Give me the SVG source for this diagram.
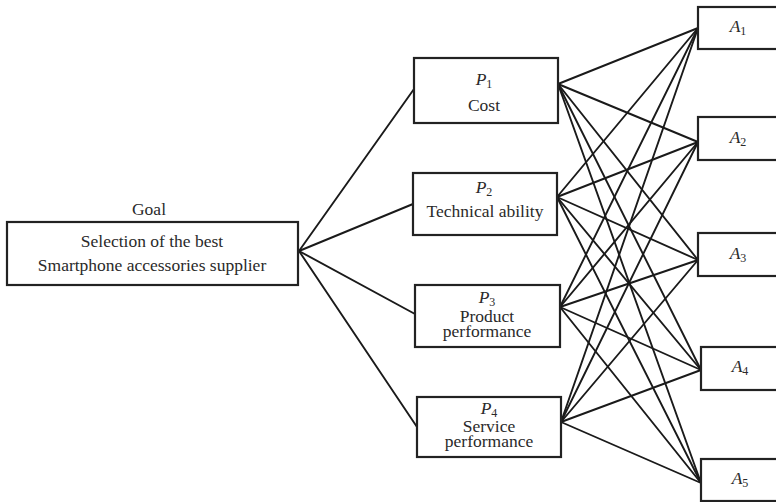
<svg xmlns="http://www.w3.org/2000/svg" width="776" height="502" viewBox="0 0 776 502">
<style>
.box{fill:#fff;stroke:#222;stroke-width:2.2}
.ln{stroke:#1a1a1a;stroke-width:1.9;fill:none;stroke-linecap:round}
text{font-family:"Liberation Serif","Times New Roman",serif;font-size:17.5px;fill:#2a2a2a;text-anchor:middle}
.v{font-style:italic}
.s{font-size:12px;font-style:normal}
</style>
<rect width="776" height="502" fill="#fff"/>
<g id="connectors">
<line class="ln" x1="299" y1="251" x2="414" y2="89"/>
<line class="ln" x1="299" y1="251" x2="413" y2="204"/>
<line class="ln" x1="299" y1="251" x2="415" y2="314"/>
<line class="ln" x1="299" y1="251" x2="417" y2="427"/>
<line class="ln" x1="558" y1="84" x2="698" y2="28"/>
<line class="ln" x1="558" y1="84" x2="698" y2="142"/>
<line class="ln" x1="558" y1="84" x2="698" y2="260"/>
<line class="ln" x1="558" y1="84" x2="701" y2="370"/>
<line class="ln" x1="558" y1="84" x2="701" y2="483"/>
<line class="ln" x1="557" y1="197" x2="698" y2="28"/>
<line class="ln" x1="557" y1="197" x2="698" y2="142"/>
<line class="ln" x1="557" y1="197" x2="698" y2="260"/>
<line class="ln" x1="557" y1="197" x2="701" y2="370"/>
<line class="ln" x1="557" y1="197" x2="701" y2="483"/>
<line class="ln" x1="560" y1="307" x2="698" y2="28"/>
<line class="ln" x1="560" y1="307" x2="698" y2="142"/>
<line class="ln" x1="560" y1="307" x2="698" y2="260"/>
<line class="ln" x1="560" y1="307" x2="701" y2="370"/>
<line class="ln" x1="560" y1="307" x2="701" y2="483"/>
<line class="ln" x1="561" y1="422" x2="698" y2="28"/>
<line class="ln" x1="561" y1="422" x2="698" y2="142"/>
<line class="ln" x1="561" y1="422" x2="698" y2="260"/>
<line class="ln" x1="561" y1="422" x2="701" y2="370"/>
<line class="ln" x1="561" y1="422" x2="701" y2="483"/>
</g>
<g id="goal">
<text x="149" y="215">Goal</text>
<rect class="box" x="7" y="222" width="291" height="63"/>
<text x="152" y="247">Selection of the best</text>
<text x="152" y="271">Smartphone accessories supplier</text>
</g>
<g id="p1">
<rect class="box" x="414" y="58" width="144" height="65"/>
<text x="484" y="85"><tspan class="v">P</tspan><tspan class="s" dy="3">1</tspan></text>
<text x="484" y="111">Cost</text>
</g>
<g id="p2">
<rect class="box" x="413" y="173" width="144" height="62"/>
<text x="484" y="193"><tspan class="v">P</tspan><tspan class="s" dy="3">2</tspan></text>
<text x="485" y="217">Technical ability</text>
</g>
<g id="p3">
<rect class="box" x="415" y="285" width="145" height="62"/>
<text x="487" y="303"><tspan class="v">P</tspan><tspan class="s" dy="3">3</tspan></text>
<text x="487" y="322">Product</text>
<text x="487" y="337">performance</text>
</g>
<g id="p4">
<rect class="box" x="417" y="397" width="144" height="60"/>
<text x="489" y="414"><tspan class="v">P</tspan><tspan class="s" dy="3">4</tspan></text>
<text x="489" y="432">Service</text>
<text x="489" y="447">performance</text>
</g>
<g id="a1">
<rect class="box" x="698" y="7" width="100" height="42"/>
<text x="738" y="32"><tspan class="v">A</tspan><tspan class="s" dy="3">1</tspan></text>
</g>
<g id="a2">
<rect class="box" x="698" y="117" width="100" height="43"/>
<text x="738" y="143"><tspan class="v">A</tspan><tspan class="s" dy="3">2</tspan></text>
</g>
<g id="a3">
<rect class="box" x="698" y="233" width="100" height="43"/>
<text x="738" y="259"><tspan class="v">A</tspan><tspan class="s" dy="3">3</tspan></text>
</g>
<g id="a4">
<rect class="box" x="701" y="347" width="100" height="43"/>
<text x="740" y="372"><tspan class="v">A</tspan><tspan class="s" dy="3">4</tspan></text>
</g>
<g id="a5">
<rect class="box" x="701" y="459" width="100" height="42"/>
<text x="740" y="484"><tspan class="v">A</tspan><tspan class="s" dy="3">5</tspan></text>
</g>
</svg>
